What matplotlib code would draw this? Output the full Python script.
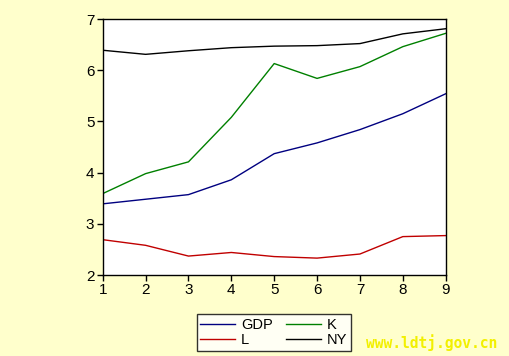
import matplotlib
matplotlib.use("Agg")
import matplotlib.pyplot as plt

years = [1, 2, 3, 4, 5, 6, 7, 8, 9]
gdp = [3.39, 3.48, 3.57, 3.86, 4.37, 4.58, 4.84, 5.15, 5.54]
k = [3.59, 3.98, 4.21, 5.08, 6.13, 5.84, 6.07, 6.46, 6.72]
l = [2.69, 2.58, 2.37, 2.44, 2.36, 2.33, 2.41, 2.75, 2.77]
ny = [6.39, 6.31, 6.38, 6.44, 6.47, 6.48, 6.52, 6.71, 6.81]
yticks = [2, 3, 4, 5, 6, 7]

plt.rcParams['font.family'] = ['Liberation Sans', 'DejaVu Sans']
bg = '#FFFFCC'
fig = plt.figure(figsize=(5.09, 3.56), dpi=100, facecolor=bg)
ax = fig.add_axes([0.2018, 0.2275, 0.6738, 0.7191])
ax.set_facecolor('white')

l1, = ax.plot(years, gdp, color='#000080', lw=1.0, label='GDP')
l2, = ax.plot(years, k, color='#008000', lw=1.0, label='K')
l3, = ax.plot(years, l, color='#C00000', lw=1.0, label='L')
l4, = ax.plot(years, ny, color='black', lw=1.0, label='NY')

ax.set_xlim(1, 9)
ax.set_ylim(2, 7)
ax.set_xticks(years)
ax.set_yticks(yticks)
ax.tick_params(direction='out', length=4, width=1, labelsize=11, pad=2)
for s in ax.spines.values():
    s.set_linewidth(1.0)
    s.set_color('black')

leg = fig.legend([l1, l3, l2, l4], ['GDP', 'L', 'K', 'NY'], ncol=2,
                 loc='center', bbox_to_anchor=(0.538, 0.066),
                 frameon=True, fancybox=False, edgecolor='black',
                 fontsize=10.5, handlelength=2.4, columnspacing=0.9,
                 handletextpad=0.4, labelspacing=0.05, borderpad=0.25,
                 borderaxespad=0)
leg.get_frame().set_linewidth(1.0)
leg.get_frame().set_facecolor('white')

fig.text(0.848, 0.0365, 'www.ldtj.gov.cn', color='#F2F000', fontsize=10.5,
         fontweight='bold', family='DejaVu Sans Mono', ha='center', va='center')

fig.savefig('out.png', dpi=100, facecolor=bg)
